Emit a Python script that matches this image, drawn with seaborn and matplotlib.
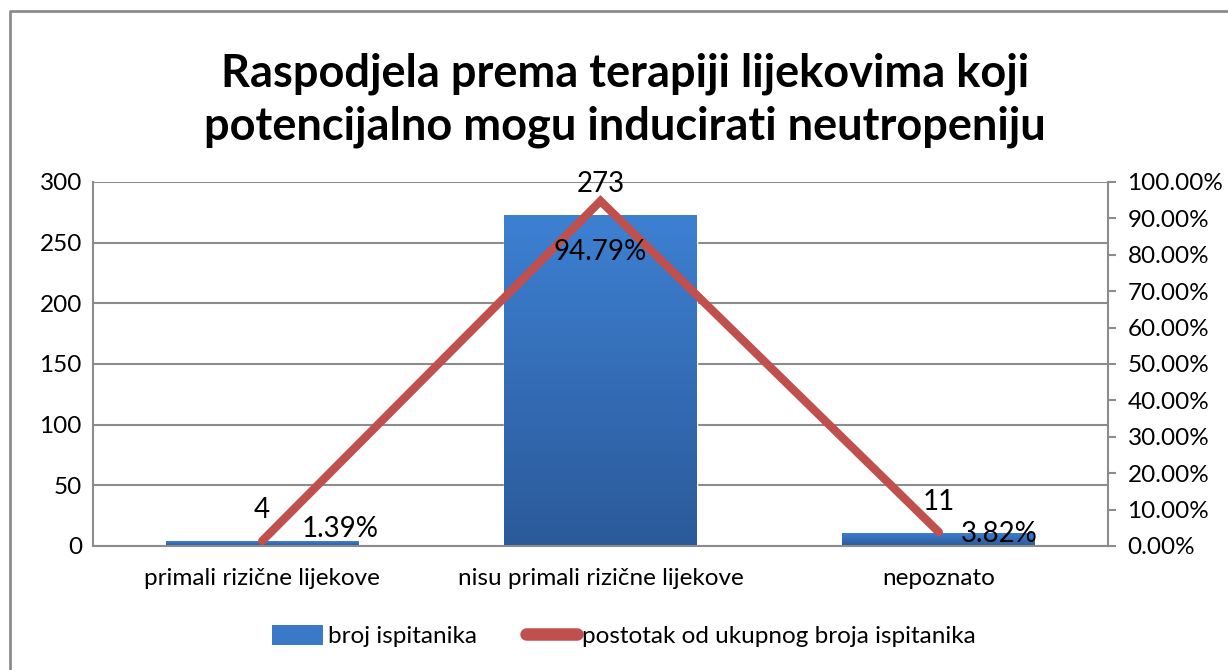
import numpy as np
import pandas as pd
import seaborn as sns
import matplotlib.pyplot as plt
from matplotlib.lines import Line2D
from matplotlib.patches import Patch
from matplotlib.colors import LinearSegmentedColormap

sns.set_theme(style="white")
plt.rcParams['font.family'] = ['Lato', 'DejaVu Sans']
plt.rcParams['text.color'] = 'black'

categories = ["primali rizične lijekove", "nisu primali rizične lijekove", "nepoznato"]
counts = [4, 273, 11]
percents = [0.0139, 0.9479, 0.0382]
count_labels = ["4", "273", "11"]
percent_labels = ["1.39%", "94.79%", "3.82%"]

title = "Raspodjela prema terapiji lijekovima koji\npotencijalno mogu inducirati neutropeniju"
bar_name = "broj ispitanika"
line_name = "postotak od ukupnog broja ispitanika"

df = pd.DataFrame({"kategorija": categories, "broj": counts, "postotak": percents})
df["pos"] = df.index

grid_col = "#8c8c8c"
blue = "#3a78c8"
red = "#c0504d"

fig = plt.figure(figsize=(12.28, 6.7), dpi=100)
ax = fig.add_axes([93 / 1228, 1 - 546 / 670, (1108 - 93) / 1228, (546 - 182) / 670])

sns.barplot(data=df, x="kategorija", y="broj", color=blue, width=0.57,
            saturation=1, ax=ax, zorder=2)

# vertical gradient on bars
grad = LinearSegmentedColormap.from_list("g", ["#2b5a9a", "#3d80d2"])
for p in ax.patches:
    x0, y0 = p.get_x(), p.get_y()
    w, h = p.get_width(), p.get_height()
    img = ax.imshow(np.linspace(0, 1, 100).reshape(-1, 1), cmap=grad, origin="lower",
                    extent=[x0, x0 + w, y0, y0 + h], aspect="auto", zorder=2.1)
    img.set_clip_path(p)

ax.set_xlim(-0.5, 2.5)
ax.set_ylim(0, 300)
ax.set_yticks(range(0, 301, 50))
ax.yaxis.grid(True, color=grid_col, linewidth=1.5)
ax.set_axisbelow(True)
ax.set_xlabel("")
ax.set_ylabel("")
ax.tick_params(axis="both", length=0, labelsize=17.5, labelcolor="black", pad=8)
ax.tick_params(axis="x", pad=16)
for side in ["top", "right"]:
    ax.spines[side].set_visible(False)
for side in ["left", "bottom"]:
    ax.spines[side].set_color(grid_col)
    ax.spines[side].set_linewidth(1.5)

ax.bar_label(ax.containers[0], labels=count_labels, padding=13, fontsize=20, color="black")

ax2 = ax.twinx()
sns.lineplot(data=df, x="pos", y="postotak", color=red, linewidth=6, sort=False,
             ax=ax2, zorder=3)
for ln in ax2.lines:
    ln.set_solid_capstyle("round")
    ln.set_solid_joinstyle("miter")
ax2.set_xlim(-0.5, 2.5)
ax2.set_ylim(0, 1)
ax2.set_yticks(np.arange(0, 1.01, 0.1))
ax2.set_yticklabels([f"{v * 100:.2f}%" for v in np.arange(0, 1.01, 0.1)])
ax2.set_xlabel("")
ax2.set_ylabel("")
ax2.tick_params(axis="y", direction="out", length=6, width=1.5, color=grid_col,
                labelsize=17.5, labelcolor="black", pad=8)
for side in ["top", "left", "bottom"]:
    ax2.spines[side].set_visible(False)
ax2.spines["right"].set_color(grid_col)
ax2.spines["right"].set_linewidth(1.5)

offsets = [(40, 12), (0, -51), (22, -2)]
aligns = ["left", "center", "left"]
for i, (lbl, off, ha) in enumerate(zip(percent_labels, offsets, aligns)):
    ax2.annotate(lbl, (df["pos"][i], percents[i]), xytext=off, textcoords="offset pixels",
                 ha=ha, va="center", fontsize=20, color="black")

fig.text(0.509, 1 - 100 / 670, title, ha="center", va="center", fontsize=32.5,
         fontweight="bold", linespacing=1.32, color="black")

handles = [Patch(facecolor=blue, edgecolor="none"),
           Line2D([0], [0], color=red, linewidth=9, solid_capstyle="round")]
fig.legend(handles, [bar_name, line_name], loc="center", bbox_to_anchor=(624 / 1228, 1 - 636 / 670),
           ncol=2, frameon=False, fontsize=17.5, handlelength=2.1, handleheight=0.9,
           handletextpad=0.2, columnspacing=2.0, labelcolor="black")

fig.add_artist(Line2D([10 / 1228, 10 / 1228, 1.0], [0, 1 - 11 / 670, 1 - 11 / 670],
                      color=grid_col, linewidth=2, transform=fig.transFigure))

fig.savefig("out.png", dpi=100)
